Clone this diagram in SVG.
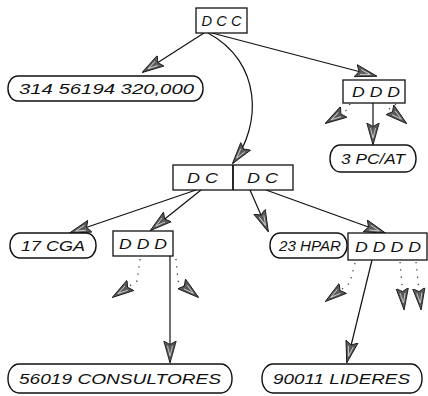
<svg xmlns="http://www.w3.org/2000/svg" width="428" height="396" viewBox="0 0 428 396">
<style>
.box{fill:#fff;stroke:#111;stroke-width:1.3}
.lbl{fill:#fff;stroke:#111;stroke-width:1.4}
.t{font-family:"Liberation Sans",Arial,sans-serif;font-style:italic;font-size:15px;fill:#111}
.ln{fill:none;stroke:#111;stroke-width:1.2;marker-end:url(#ah)}
.dot{fill:none;stroke:#444;stroke-width:1.3;stroke-dasharray:1.3 6;marker-end:url(#ah)}
</style>
<defs>
<marker id="ah" viewBox="0 0 22 14" refX="21" refY="7" markerWidth="22" markerHeight="14" markerUnits="userSpaceOnUse" orient="auto">
<path d="M0,0.8 L22,7 L0,13.2 L3.5,7 Z" fill="#5a5a5a" stroke="#1a1a1a" stroke-width="0.9" stroke-linejoin="round"/>
<path d="M5,4.5 L15,7 L5,9.5" fill="none" stroke="#cfcfcf" stroke-width="0.9"/>
</marker>
</defs>
<g id="connectors">
<path class="ln" d="M204,33 L143,72"/>
<path class="ln" d="M212,33 L376,76"/>
<path class="ln" d="M208,33 C262,62 262,125 233,163"/>
<path class="ln" d="M373,103 L373,144"/>
<path class="dot" d="M350,104 L347,110 L326,123"/>
<path class="dot" d="M396,104 L389,109 L406,123"/>
<path class="ln" d="M196,190 L70,233"/>
<path class="ln" d="M201,190 L151,230"/>
<path class="ln" d="M250,190 L268,231"/>
<path class="ln" d="M266,190 L385,233"/>
<path class="dot" d="M140,259 L137,281 L113,297"/>
<path class="dot" d="M176,259 L178,281 L198,297"/>
<path class="ln" d="M170,256 L170,362"/>
<path class="dot" d="M355,263 L350,283 L326,301"/>
<path class="dot" d="M400,262 L404,309"/>
<path class="dot" d="M416,262 L421,309"/>
<path class="ln" d="M372,260 L347,362"/>
</g>
<g id="dcc"><rect class="box" x="196" y="8" width="51" height="25"/><text class="t" x="201.5" y="26" textLength="40" lengthAdjust="spacingAndGlyphs">D C C</text></g>
<g id="n314"><rect class="lbl" x="8" y="76" width="195" height="25" rx="10" ry="12"/><text class="t" x="19" y="94" textLength="175" lengthAdjust="spacingAndGlyphs">314 56194 320,000</text></g>
<g id="ddd1"><rect class="box" x="343" y="80" width="62" height="23"/><text class="t" x="352" y="97" textLength="48" lengthAdjust="spacingAndGlyphs">D D D</text></g>
<g id="pcat"><rect class="lbl" x="330" y="145" width="86" height="27" rx="10" ry="13"/><text class="t" x="341" y="164" textLength="64" lengthAdjust="spacingAndGlyphs">3 PC/AT</text></g>
<g id="dcdc"><rect class="box" x="173" y="165" width="120" height="25"/><line x1="233" y1="165" x2="233" y2="190" stroke="#111" stroke-width="1.8"/><text class="t" x="187" y="183" textLength="31" lengthAdjust="spacingAndGlyphs">D C</text><text class="t" x="247" y="183" textLength="31" lengthAdjust="spacingAndGlyphs">D C</text></g>
<g id="cga"><rect class="lbl" x="10" y="233" width="86" height="25" rx="10" ry="12"/><text class="t" x="21" y="251" textLength="64" lengthAdjust="spacingAndGlyphs">17 CGA</text></g>
<g id="ddd2"><rect class="box" x="113" y="231" width="60" height="25"/><text class="t" x="119" y="249" textLength="48" lengthAdjust="spacingAndGlyphs">D D D</text></g>
<g id="hpar"><rect class="lbl" x="270" y="233" width="77" height="25" rx="10" ry="12"/><text class="t" x="279" y="251" textLength="62" lengthAdjust="spacingAndGlyphs">23 HPAR</text></g>
<g id="dddd"><rect class="box" x="348" y="233" width="79" height="27"/><text class="t" x="355" y="252" textLength="66" lengthAdjust="spacingAndGlyphs">D D D D</text></g>
<g id="consultores"><rect class="lbl" x="8" y="364" width="224" height="29" rx="11" ry="14"/><text class="t" x="19" y="384" textLength="202" lengthAdjust="spacingAndGlyphs">56019 CONSULTORES</text></g>
<g id="lideres"><rect class="lbl" x="262" y="364" width="160" height="29" rx="11" ry="14"/><text class="t" x="273" y="384" textLength="137" lengthAdjust="spacingAndGlyphs">90011 LIDERES</text></g>
</svg>
